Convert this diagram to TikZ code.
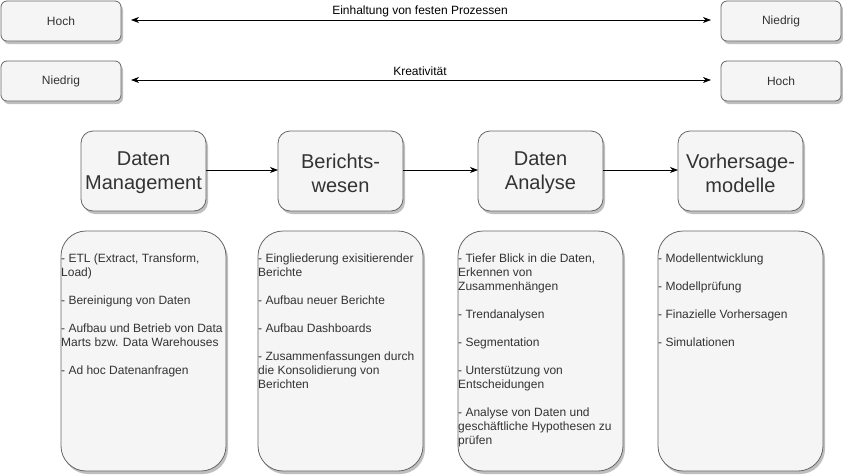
\documentclass[tikz,border=0pt]{standalone}
\usepackage{fontspec}
\setmainfont{Liberation Sans}
\usetikzlibrary{arrows.meta,shadows}
\definecolor{boxfill}{HTML}{F5F5F5}
\definecolor{boxline}{HTML}{666666}
\definecolor{boxtext}{HTML}{333333}
\begin{document}
\begin{tikzpicture}[x=1pt,y=-1pt,
  boxbase/.style={draw=boxline,fill=boxfill,line width=0.8pt,text=boxtext,
    drop shadow={shadow xshift=2pt,shadow yshift=-3pt,opacity=0.25,fill=black}},
  smallbox/.style={boxbase,rounded corners=6pt},
  bigbox/.style={boxbase,rounded corners=12pt},
  listbox/.style={boxbase,rounded corners=25pt},
  smalltxt/.style={font=\fontsize{12}{14}\selectfont,text=boxtext},
  bigtxt/.style={font=\fontsize{20}{24}\selectfont,text=boxtext,align=center},
  listtxt/.style={font=\fontsize{12}{14}\selectfont,text=boxtext,align=left,anchor=north west,inner sep=0pt},
  conn/.style={line width=0.8pt,-{Stealth[length=8pt,width=6pt,inset=2.5pt]}},
  dconn/.style={line width=0.8pt,{Stealth[length=8pt,width=6pt,inset=2.5pt]}-{Stealth[length=8pt,width=6pt,inset=2.5pt]}}
]
\useasboundingbox (0,0) rectangle (843,474);
% top rows
\draw[smallbox] (1,1) rectangle (121,41);
\node[smalltxt] (h1) at (61,21) {Hoch};
\draw[smallbox] (721,1) rectangle (841,41);
\node[smalltxt] (n1) at (781,21) {Niedrig};
\draw[smallbox] (1,61) rectangle (121,101);
\node[smalltxt] (n2) at (61,81) {Niedrig};
\draw[smallbox] (721,61) rectangle (841,101);
\node[smalltxt] (h2) at (781,81) {Hoch};
\coordinate (a1l) at (131,20);
\coordinate (a1r) at (711,20);
\coordinate (a2l) at (131,80);
\coordinate (a2r) at (711,80);
\draw[dconn] (a1l) -- (a1r);
\draw[dconn] (a2l) -- (a2r);
\node[font=\fontsize{12}{14}\selectfont] (l1) at (420,11) {Einhaltung von festen Prozessen};
\node[font=\fontsize{12}{14}\selectfont] (l2) at (420,71) {Kreativität};
% main boxes
\draw[bigbox] (81,131) rectangle (206,211);
\node[bigtxt] (dm) at (143.5,173) {Daten\\Management};
\draw[bigbox] (278,131) rectangle (403,211);
\node[bigtxt] (bw) at (340.5,173) {Berichts-\\wesen};
\draw[bigbox] (478,131) rectangle (603,211);
\node[bigtxt] (da) at (540.5,173) {Daten\\Analyse};
\draw[bigbox] (678,131) rectangle (803,211);
\node[bigtxt] (vm) at (740.5,173) {Vorhersage-\\modelle};
\coordinate (e1) at (206,170); \coordinate (s1) at (278,170);
\coordinate (e2) at (403,170); \coordinate (s2) at (478,170);
\coordinate (e3) at (603,170); \coordinate (s3) at (678,170);
\draw[conn] (e1) -- (s1);
\draw[conn] (e2) -- (s2);
\draw[conn] (e3) -- (s3);
% list boxes
\draw[listbox] (61,231) rectangle (226,471);
\draw[listbox] (258,231) rectangle (423,471);
\draw[listbox] (458,231) rectangle (623,471);
\draw[listbox] (658,231) rectangle (823,471);
\node[listtxt] (t1) at (61,254) {- ETL (Extract, Transform,\\Load)\\[14pt]- Bereinigung von Daten\\[14pt]- Aufbau und Betrieb von Data\\Marts bzw. Data Warehouses\\[14pt]- Ad hoc Datenanfragen};
\node[listtxt] (t2) at (258,254) {- Eingliederung exisitierender\\Berichte\\[14pt]- Aufbau neuer Berichte\\[14pt]- Aufbau Dashboards\\[14pt]- Zusammenfassungen durch\\die Konsolidierung von\\Berichten};
\node[listtxt] (t3) at (458,254) {- Tiefer Blick in die Daten,\\Erkennen von\\Zusammenhängen\\[14pt]- Trendanalysen\\[14pt]- Segmentation\\[14pt]- Unterstützung von\\Entscheidungen\\[14pt]- Analyse von Daten und\\geschäftliche Hypothesen zu\\prüfen};
\node[listtxt] (t4) at (658,254) {- Modellentwicklung\\[14pt]- Modellprüfung\\[14pt]- Finazielle Vorhersagen\\[14pt]- Simulationen};
\end{tikzpicture}
\end{document}
